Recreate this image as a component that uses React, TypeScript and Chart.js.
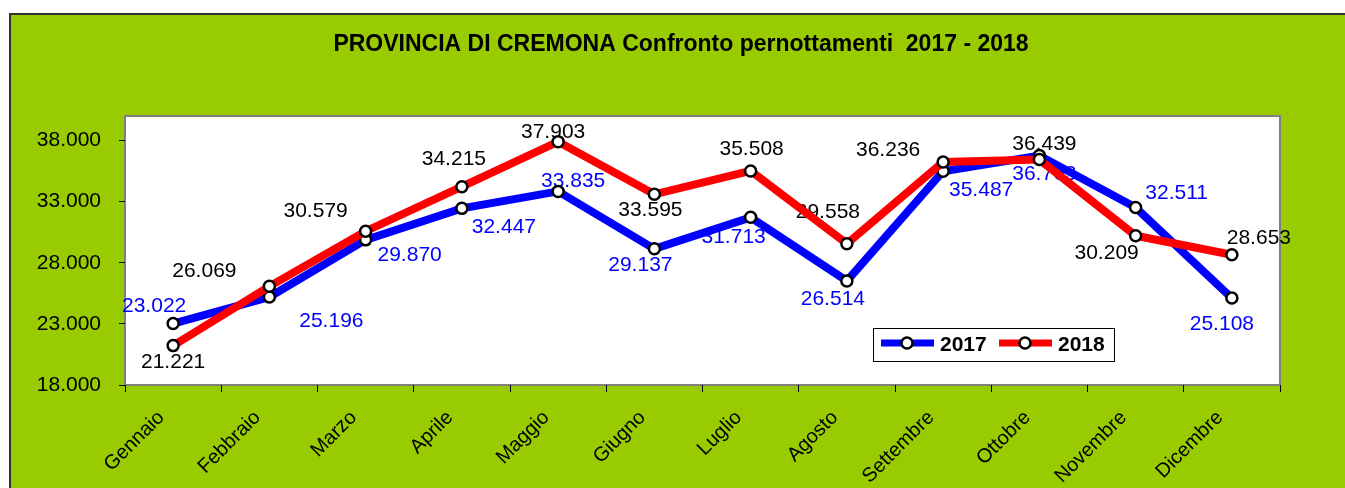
import React, { useEffect, useRef } from 'react';
import { Chart, registerables } from 'chart.js';

Chart.register(...registerables);

const months = ['Gennaio', 'Febbraio', 'Marzo', 'Aprile', 'Maggio', 'Giugno', 'Luglio', 'Agosto', 'Settembre', 'Ottobre', 'Novembre', 'Dicembre'];
const series2017 = [23022, 25196, 29870, 32447, 33835, 29137, 31713, 26514, 35487, 36763, 32511, 25108];
const series2018 = [21221, 26069, 30579, 34215, 37903, 33595, 35508, 29558, 36236, 36439, 30209, 28653];
const yTicks = [18000, 23000, 28000, 33000, 38000];
const yMin = 18000;
const yMax = 40000;
const titleText = 'PROVINCIA DI CREMONA Confronto pernottamenti  2017 - 2018';

// label placement (pixel offsets from each point), as placed in the original
const labelOffsets2017: [number, number][] = [[-19, -17], [62, 24], [44, 15], [42, 19], [15, -10], [-14, 16], [-17, 20], [-14, 18], [38, 19], [5, 19], [41, -14], [-10, 26]];
const labelOffsets2018: [number, number][] = [[0, 17], [-65, -15], [-50, -20], [-8, -28], [-5, -9], [-4, 16], [1, -22], [-19, -31], [-55, -12], [5, -15], [-29, 17], [27, -17]];

const FONT = '"Liberation Sans", Arial, sans-serif';

const fmt = (v: number) => String(Math.round(v)).replace(/\B(?=(\d{3})+(?!\d))/g, '.');

const framePlugin = {
  id: 'frame',
  beforeDraw(chart: any) {
    const { ctx, chartArea: a } = chart;
    ctx.save();
    ctx.fillStyle = '#FFFFFF';
    ctx.fillRect(a.left, a.top, a.right - a.left, a.bottom - a.top);
    ctx.strokeStyle = '#808080';
    ctx.lineWidth = 2;
    ctx.strokeRect(a.left, a.top, a.right - a.left, a.bottom - a.top);
    ctx.restore();
  },
};

const titlePlugin = {
  id: 'customTitle',
  afterDraw(chart: any) {
    const { ctx } = chart;
    ctx.save();
    ctx.font = `bold 23px ${FONT}`;
    ctx.fillStyle = '#000';
    ctx.textAlign = 'center';
    ctx.textBaseline = 'middle';
    ctx.fillText(titleText, 681, 45);
    ctx.restore();
  },
};

const labelsPlugin = {
  id: 'pointLabels',
  beforeDatasetsDraw(chart: any) {
    const { ctx } = chart;
    ctx.save();
    ctx.font = `21px ${FONT}`;
    ctx.textAlign = 'center';
    ctx.textBaseline = 'middle';
    chart.data.datasets.forEach((ds: any, di: number) => {
      const meta = chart.getDatasetMeta(di);
      const offs = ds.labelOffsets as [number, number][];
      ctx.fillStyle = ds.labelColor;
      meta.data.forEach((pt: any, i: number) => {
        const [dx, dy] = offs[i];
        ctx.fillText(fmt(ds.data[i]), pt.x + dx, pt.y + dy);
      });
    });
    ctx.restore();
  },
};

const legendPlugin = {
  id: 'customLegend',
  afterDatasetsDraw(chart: any) {
    const { ctx, chartArea: a } = chart;
    const x0 = a.right - 407;
    const y0 = a.top + 212;
    ctx.save();
    ctx.fillStyle = '#FFFFFF';
    ctx.fillRect(x0, y0, 241, 33);
    ctx.strokeStyle = '#000';
    ctx.lineWidth = 1;
    ctx.strokeRect(x0 + 0.5, y0 + 0.5, 241, 33);
    chart.data.datasets.forEach((ds: any, di: number) => {
      const bx = x0 + 8 + di * 118;
      const cy = y0 + 15;
      ctx.strokeStyle = ds.borderColor;
      ctx.lineWidth = 7;
      ctx.beginPath();
      ctx.moveTo(bx, cy);
      ctx.lineTo(bx + 53, cy);
      ctx.stroke();
      ctx.beginPath();
      ctx.arc(bx + 26, cy, 5.5, 0, Math.PI * 2);
      ctx.fillStyle = '#FFFFFF';
      ctx.fill();
      ctx.strokeStyle = '#000';
      ctx.lineWidth = 2.5;
      ctx.stroke();
      ctx.fillStyle = '#000';
      ctx.font = `bold 21px ${FONT}`;
      ctx.textAlign = 'left';
      ctx.textBaseline = 'middle';
      ctx.fillText(ds.label, bx + 59, cy + 2);
    });
    ctx.restore();
  },
};

export default function App() {
  const ref = useRef<HTMLCanvasElement>(null);

  useEffect(() => {
    if (!ref.current) return;
    const common = {
      borderWidth: 8,
      tension: 0,
      fill: false,
      pointRadius: 5.5,
      pointHoverRadius: 5.5,
      pointBackgroundColor: '#FFFFFF',
      pointBorderColor: '#000000',
      pointBorderWidth: 2.5,
    };
    const chart = new Chart(ref.current, {
      type: 'line',
      data: {
        labels: months,
        datasets: [
          { ...common, label: '2017', data: series2017, borderColor: '#0000FF', backgroundColor: '#0000FF', order: 1, labelColor: '#0000FF', labelOffsets: labelOffsets2017 } as any,
          { ...common, label: '2018', data: series2018, borderColor: '#FF0000', backgroundColor: '#FF0000', order: 0, labelColor: '#000000', labelOffsets: labelOffsets2018 } as any,
        ],
      },
      options: {
        responsive: false,
        animation: false,
        devicePixelRatio: 1,
        layout: { padding: { top: 116, right: 65, bottom: 0, left: 0 } },
        plugins: {
          legend: { display: false },
          title: { display: false },
          tooltip: { enabled: false },
        },
        scales: {
          x: {
            type: 'category',
            offset: true,
            grid: { offset: true, drawOnChartArea: false, drawTicks: true, tickLength: 7, color: '#000', lineWidth: 1 },
            border: { display: false },
            ticks: {
              color: '#000',
              font: { family: FONT, size: 20 },
              maxRotation: 45,
              minRotation: 45,
              autoSkip: false,
              padding: 14,
              labelOffset: -12,
            },
            afterFit: (s: any) => { s.height = 103; },
          },
          y: {
            type: 'linear',
            min: yMin,
            max: yMax,
            afterBuildTicks: (s: any) => { s.ticks = yTicks.map((v) => ({ value: v })); },
            grid: { drawOnChartArea: false, drawTicks: true, tickLength: 6, color: '#000', lineWidth: 1 },
            border: { display: false },
            ticks: {
              color: '#000',
              font: { family: FONT, size: 21 },
              padding: 18,
              callback: (v: any) => fmt(Number(v)),
            },
            afterFit: (s: any) => { s.width = 125; },
          },
        },
      } as any,
      plugins: [framePlugin, labelsPlugin, legendPlugin, titlePlugin],
    });
    return () => chart.destroy();
  }, []);

  return (
    <div style={{ position: 'absolute', left: 0, top: 0, width: 1345, height: 488, background: '#FFFFFF', overflow: 'hidden' }}>
      <div style={{ position: 'absolute', left: 9, top: 13, width: 1400, height: 520, background: '#99CC00', borderTop: '2px solid #333', borderLeft: '2px solid #333' }} />
      <canvas ref={ref} width={1345} height={488} style={{ position: 'absolute', left: 0, top: 0 }} />
    </div>
  );
}
